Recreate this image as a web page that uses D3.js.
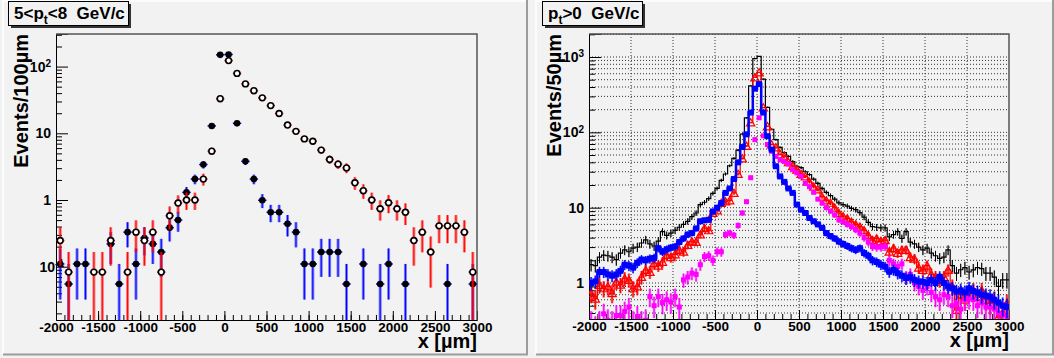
<!DOCTYPE html>
<html>
<head>
<meta charset="utf-8">
<script src="https://cdn.jsdelivr.net/npm/d3@7"></script>
<style>
  body { margin: 0; background: #f2f2f2; }
  svg { display: block; font-family: "Liberation Sans", Arial, Helvetica, sans-serif; font-weight: bold; }
</style>
</head>
<body>
<svg id="chart" width="1054" height="358"></svg>
<script>
// ---- left pad: 100 um bins, 5 < pt < 8 GeV/c
const leftBins = d3.range(-1950, 3000, 100);
const leftBlue = [
  0.11, 0.055, 0.11, 0.11, null, null, 0.22, 0.055, 0.33, 0.11,
  0.27, 0.22, 0.166, 0.385, 0.5, 1.3, 2.06, 3.4, 12.9, 150,
  152, 14.1, 3.8, 2.06, 0.99, 0.655, 0.655, 0.44, 0.33, 0.11,
  0.11, 0.166, 0.166, 0.166, 0.055, null, 0.11, null, 0.055, 0.11,
  null, 0.055, null, null, null, null, 0.055, null, null, 0.055
];
const leftRed = [
  0.247, 0.083, null, null, 0.083, 0.083, 0.247, null, 0.083, 0.33,
  0.247, 0.33, 0.083, 0.58, 0.9, 1.0, 1.0, 2.06, 5.4, 33,
  123, 79, 55, 43.5, 34, 26, 19.8, 13.3, 10.7, 8.25,
  7.6, 5.6, 4.05, 3.45, 3.03, 1.81, 1.38, 1.0, 0.74, 0.91,
  0.74, 0.655, 0.247, 0.33, 0.166, 0.41, 0.41, 0.41, 0.33, 0.083
];
// weight of one entry, for the Poisson error bars
const leftBlueUnit = 0.055;
const leftRedUnit = 0.083;

// ---- right pad: 50 um bins, pt > 0
const rightBins = d3.range(-1975, 3000, 50);
const rightBlack = [
  1.75, 1.7, 2.2, 2.35, 2.3, 2.2, 2.05, 2.5, 2.75, 2.6,
  2.9, 3.0, 3.4, 3.75, 3.3, 3.1, 3.6, 4.8, 4.3, 4.6,
  5.0, 5.5, 6.0, 6.6, 7.6, 8.5, 11.0, 11.8, 13.2, 15.5,
  18, 23, 28, 36, 45, 58, 95, 156, 414, 950,
  1020, 510, 215, 110, 80, 63, 54, 48, 41, 35.5,
  34, 30, 27.5, 24, 21, 18, 16, 14.5, 13, 11.6,
  11, 10.5, 9.8, 9.4, 8.6, 7.5, 6.4, 5.6, 5.5, 5.4,
  5.4, 4.1, 4.4, 4.8, 3.9, 4.8, 3.5, 3.3, 3.0, 2.75,
  2.9, 2.5, 2.3, 2.13, 2.2, 2.75, 1.7, 1.35, 1.5, 1.6,
  1.4, 1.49, 1.6, 1.55, 1.35, 1.35, 1.2, 0.9, 1.1, 1.1
];
const rightBlue = [
  1.0, 1.05, 1.4, 1.4, 1.3, 1.25, 1.3, 1.45, 1.75, 1.7,
  1.6, 1.85, 2.05, 2.0, 2.1, 2.15, 2.9, 2.6, 2.8, 2.95,
  3.05, 3.5, 3.9, 4.4, 4.6, 5.3, 6.6, 6.8, 6.9, 8.9,
  10, 11.5, 15.7, 18, 24, 40, 64, 94, 183, 380,
  437, 183, 89, 59, 35.5, 26, 22, 18, 15.7, 11,
  9.4, 8.5, 7.3, 6.6, 6.0, 5.4, 4.6, 4.2, 3.9, 3.55,
  3.3, 3.1, 2.9, 2.75, 2.9, 2.5, 2.3, 2.0, 1.9, 1.75,
  1.65, 1.41, 1.5, 1.35, 1.25, 1.16, 1.2, 1.1, 1.05, 1.04,
  1.0, 1.1, 1.0, 1.21, 1.0, 0.9, 0.85, 0.77, 0.8, 0.75,
  0.85, 0.78, 0.75, 0.7, 0.68, 0.66, 0.6, 0.55, 0.5, 0.48
];
const rightRed = [
  0.73, 0.62, 0.94, 0.85, 0.9, 0.73, 1.04, 0.95, 1.15, 1.1,
  0.85, 0.9, 1.2, 1.49, 1.4, 1.83, 1.7, 1.9, 2.36, 2.2,
  2.4, 2.75, 2.6, 3.2, 3.55, 3.5, 4.4, 5.35, 5.0, 8.5,
  9.2, 11.5, 12.1, 12.5, 15.7, 28, 45, 66, 135, 535,
  625, 213, 120, 69, 63, 51, 48, 40, 35.5, 32,
  28, 26, 22, 19, 17.4, 14, 12.5, 11.6, 10, 8.5,
  7.7, 7.2, 6.5, 6.0, 5.6, 5.0, 4.3, 3.7, 3.9, 3.6,
  3.7, 2.6, 2.9, 2.5, 2.75, 2.75, 2.2, 2.1, 1.6, 1.49,
  1.7, 1.3, 1.2, 1.1, 1.2, 1.49, 0.9, 0.44, 0.7, 0.6,
  0.75, 0.8, 0.65, 0.8, 0.6, 0.54, 0.6, 0.35, 0.4, 0.54
];
const rightMagenta = [
  0.3, 0.25, 0.3, 0.39, 0.32, 0.3, 0.37, 0.37, 0.42, 0.48,
  0.3, 0.36, 0.3, 0.32, 0.66, 0.5, 0.66, 0.55, 0.6, 0.56,
  0.66, 0.48, 1.1, 1.2, 1.35, 1.3, 1.75, 2.24, 2.3, 2.0,
  2.6, 2.6, 4.4, 4.6, 4.3, 5.8, 8.5, 12, 25, 80,
  156, 90, 69, 56, 48, 43, 41, 38, 32, 29,
  26, 21, 19, 16, 13, 11.5, 10, 9.0, 8, 6.9,
  6.5, 6.0, 5.6, 5.1, 4.6, 4.0, 3.5, 3.05, 3.0, 3.0,
  3.05, 2.0, 1.8, 1.65, 1.8, 1.2, 1.3, 1.0, 0.9, 0.8,
  0.9, 0.75, 0.66, 0.6, 0.7, 0.66, 0.5, 0.54, 0.45, 0.6,
  0.62, 0.6, 0.5, 0.55, 0.48, 0.48, 0.45, 0.4, 0.38, 0.35
];
const rightUnits = { black: 0.06, blue: 0.04, red: 0.05, magenta: 0.05 };

const xMajor = d3.range(-2000, 3001, 500);
const xMinor = d3.range(-2000, 3001, 100);

const svg = d3.select("#chart");
svg.append("rect").attr("width", 1054).attr("height", 358).attr("fill", "#f2f2f2");

// pad bevels
function padBorder(x0, x1) {
  svg.append("path").attr("d", `M${x0},354 V1 H${x1}`).attr("fill", "none").attr("stroke", "#fff").attr("stroke-width", 1.5);
  svg.append("path").attr("d", `M${x0},354.5 H${x1} V0`).attr("fill", "none").attr("stroke", "#9c9c9c").attr("stroke-width", 2);
}
padBorder(3, 527);
padBorder(536, 1053);

const err = (v, unit) => Math.sqrt(v * unit);

function logLabels(axisG, shiftNeg) {
  axisG.selectAll(".tick text").each(function (d) {
    const t = d3.select(this).text(null);
    const e = Math.round(Math.log10(d));
    if (e === 0 || e === 1) { t.text(e === 0 ? "1" : "10"); return; }
    if (e < 0) t.attr("x", +t.attr("x") + shiftNeg);
    t.append("tspan").text("10");
    t.append("tspan").attr("dy", "-0.45em").attr("font-size", "10px").text(e);
  });
}

function drawFrame(g, x, y, opts) {
  const [x0, x1] = x.range();
  const [y0, y1] = y.range(); // bottom, top

  if (opts.grid) {
    const gridTicks = opts.minorY.concat(opts.majorY);
    g.append("g").selectAll("line").data(gridTicks).join("line")
      .attr("x1", x0).attr("x2", x1)
      .attr("y1", d => y(d)).attr("y2", d => y(d))
      .attr("stroke", "#333").attr("stroke-dasharray", "1,2").attr("stroke-width", 1);
    g.append("g").selectAll("line").data(xMajor.slice(1, -1)).join("line")
      .attr("x1", d => x(d)).attr("x2", d => x(d))
      .attr("y1", y1).attr("y2", y0)
      .attr("stroke", "#333").attr("stroke-dasharray", "1,2").attr("stroke-width", 1);
  }

  // x axis
  const xa = g.append("g").attr("transform", `translate(0,${y0})`)
    .call(d3.axisBottom(x).tickValues(xMajor).tickSize(-9).tickPadding(2).tickFormat(d => String(d)));
  g.append("g").attr("transform", `translate(0,${y0})`)
    .call(d3.axisBottom(x).tickValues(xMinor).tickSize(-5).tickFormat(""))
    .select(".domain").remove();
  xa.selectAll("text").attr("font-size", "13.5px").attr("fill", "#000").attr("dy", "0.72em");

  // y axis
  const ya = g.append("g").attr("transform", `translate(${x0},0)`)
    .call(d3.axisLeft(y).tickValues(opts.majorY).tickSize(-12).tickPadding(5));
  ya.selectAll("text").attr("font-size", "14px").attr("fill", "#000");
  logLabels(ya, opts.shiftNeg);
  g.append("g").attr("transform", `translate(${x0},0)`)
    .call(d3.axisLeft(y).tickValues(opts.minorY).tickSize(-6).tickFormat(""))
    .select(".domain").remove();
  g.selectAll(".domain").attr("stroke", "#000");
  g.selectAll(".tick line").attr("stroke", "#000");

  // top and right frame
  g.append("path").attr("d", `M${x0},${y1} H${x1} V${y0}`)
    .attr("fill", "none").attr("stroke", "#555").attr("stroke-width", 1.5);

  // titles
  g.append("text").attr("x", x1).attr("y", y0 + 28).attr("text-anchor", "end")
    .attr("font-size", "20px").text("x [\u00b5m]");
  g.append("text").attr("transform", `translate(${opts.ylabelX},${y1}) rotate(-90)`)
    .attr("text-anchor", "end").attr("font-size", "20px").text(opts.ylabel);
}

function titleBox(x0, w, parts) {
  svg.append("rect").attr("x", x0 + 3).attr("y", 4).attr("width", w).attr("height", 24).attr("fill", "#333");
  svg.append("rect").attr("x", x0 + 0.5).attr("y", 1.5).attr("width", w).attr("height", 24)
    .attr("fill", "#f2f2f2").attr("stroke", "#000").attr("stroke-width", 1);
  const t = svg.append("text").attr("x", x0 + 6).attr("y", 18.5).attr("font-size", "17px").style("white-space", "pre");
  parts.forEach(p => {
    if (p.sub) t.append("tspan").attr("dy", 5).attr("font-size", "12px").text(p.text);
    else t.append("tspan").attr("dy", p.up ? -5 : 0).text(p.text);
  });
}

// ================= left pad =================
const xL = d3.scaleLinear().domain([-2000, 3000]).range([56, 477]);
const yL = d3.scaleLog().domain([0.0159, 308]).range([320, 34]);
const gL = svg.append("g");
svg.append("clipPath").attr("id", "clipL").append("rect").attr("x", 56).attr("y", 34).attr("width", 421).attr("height", 286);

drawFrame(gL, xL, yL, {
  majorY: [0.1, 1, 10, 100],
  minorY: [0.02, 0.03, 0.04, 0.05, 0.06, 0.07, 0.08, 0.09,
           0.2, 0.3, 0.4, 0.5, 0.6, 0.7, 0.8, 0.9,
           2, 3, 4, 5, 6, 7, 8, 9, 20, 30, 40, 50, 60, 70, 80, 90, 200, 300],
  shiftNeg: 13,
  ylabel: "Events/100\u00b5m",
  ylabelX: 28,
  grid: false
});

function drawPoints(g, x, y, bins, values, unit, color, halfBin, marker) {
  const pts = bins.map((c, i) => ({ c, v: values[i] })).filter(d => d.v != null);
  const lo = y.domain()[0];
  const eb = g.append("g").attr("clip-path", "url(#clipL)");
  [[3, 0.5], [1, 1]].forEach(([w, op]) => {
    eb.append("g").selectAll("line").data(pts).join("line")
      .attr("x1", d => x(d.c)).attr("x2", d => x(d.c))
      .attr("y1", d => y(d.v + err(d.v, unit)))
      .attr("y2", d => y(Math.max(d.v - err(d.v, unit), lo * 0.5)))
      .attr("stroke", color).attr("stroke-width", w).attr("opacity", op);
  });
  eb.append("g").selectAll("line").data(pts).join("line")
    .attr("x1", d => x(d.c - halfBin)).attr("x2", d => x(d.c + halfBin))
    .attr("y1", d => y(d.v)).attr("y2", d => y(d.v))
    .attr("stroke", color).attr("stroke-width", 1.5);
  const m = g.append("g").selectAll("circle").data(pts).join("circle")
    .attr("cx", d => x(d.c)).attr("cy", d => y(d.v)).attr("r", marker === "filled" ? 3.3 : 2.9);
  if (marker === "filled") m.attr("fill", "#000");
  else m.attr("fill", "#fff").attr("stroke", "#000").attr("stroke-width", 1.6);
}
drawPoints(gL, xL, yL, leftBins, leftBlue, leftBlueUnit, "#0000ff", 50, "filled");
drawPoints(gL, xL, yL, leftBins, leftRed, leftRedUnit, "#ff0000", 50, "open");

titleBox(8, 120, [{ text: "5<p" }, { text: "t", sub: true }, { text: "<8  GeV/c", up: true }]);

// ================= right pad =================
const xR = d3.scaleLinear().domain([-2000, 3000]).range([589, 1009]);
const yR = d3.scaleLog().domain([0.333, 2020]).range([319, 34]);
const gR = svg.append("g");
svg.append("clipPath").attr("id", "clipR").append("rect").attr("x", 589).attr("y", 34).attr("width", 420).attr("height", 285);

drawFrame(gR, xR, yR, {
  majorY: [1, 10, 100, 1000],
  minorY: [0.4, 0.5, 0.6, 0.7, 0.8, 0.9,
           2, 3, 4, 5, 6, 7, 8, 9, 20, 30, 40, 50, 60, 70, 80, 90,
           200, 300, 400, 500, 600, 700, 800, 900, 2000],
  shiftNeg: 0,
  ylabel: "Events/50\u00b5m",
  ylabelX: 561,
  grid: true
});

const plotR = gR.append("g").attr("clip-path", "url(#clipR)");
const lowR = yR.domain()[0] * 0.5;

function stepPath(values) {
  const pts = rightBins.map((c, i) => [c - 25, values[i]]);
  pts.push([rightBins[rightBins.length - 1] + 25, values[values.length - 1]]);
  return d3.line().x(d => xR(d[0])).y(d => yR(Math.max(d[1], lowR))).curve(d3.curveStepAfter)(pts);
}

function rightSeries(values, unit, color, opts) {
  const pts = rightBins.map((c, i) => ({ c, v: values[i] }));
  const g = plotR.append("g");
  if (opts.step) {
    g.append("path").attr("d", stepPath(values)).attr("fill", "none")
      .attr("stroke", color).attr("stroke-width", opts.step);
  }
  [[opts.errW, 0.55], [1, 1]].forEach(([w, op]) => {
    g.append("g").selectAll("line").data(pts).join("line")
      .attr("x1", d => xR(d.c)).attr("x2", d => xR(d.c))
      .attr("y1", d => yR(d.v + err(d.v, unit)))
      .attr("y2", d => yR(Math.max(d.v - err(d.v, unit), lowR)))
      .attr("stroke", color).attr("stroke-width", w).attr("opacity", op);
  });
  if (opts.hbar) {
    g.append("g").selectAll("line").data(pts).join("line")
      .attr("x1", d => xR(d.c - 25)).attr("x2", d => xR(d.c + 25))
      .attr("y1", d => yR(Math.max(d.v, lowR))).attr("y2", d => yR(Math.max(d.v, lowR)))
      .attr("stroke", color).attr("stroke-width", opts.hbar);
  }
  if (opts.square) {
    const s = opts.square;
    g.append("g").selectAll("rect").data(pts).join("rect")
      .attr("x", d => xR(d.c) - s / 2).attr("y", d => yR(Math.max(d.v, lowR)) - s / 2)
      .attr("width", s).attr("height", s).attr("fill", color);
  }
  if (opts.triangle) {
    const tri = d3.symbol().type(d3.symbolTriangle).size(opts.triangle);
    g.append("g").selectAll("path").data(pts).join("path")
      .attr("transform", d => `translate(${xR(d.c)},${yR(Math.max(d.v, lowR)) + 1})`)
      .attr("d", tri).attr("fill", "none").attr("stroke", color).attr("stroke-width", 1.2);
  }
}

rightSeries(rightBlack, rightUnits.black, "#000", { step: 1.2, errW: 1 });
rightSeries(rightRed, rightUnits.red, "#ff0000", { step: 1.2, errW: 2.5, triangle: 30 });
rightSeries(rightMagenta, rightUnits.magenta, "#ff00ff", { errW: 2.5, hbar: 2, square: 5 });
rightSeries(rightBlue, rightUnits.blue, "#0000ff", { step: 2.5, errW: 2, hbar: 2.5, square: 6 });

titleBox(542, 100, [{ text: "p" }, { text: "t", sub: true }, { text: ">0  GeV/c", up: true }]);
</script>
</body>
</html>
